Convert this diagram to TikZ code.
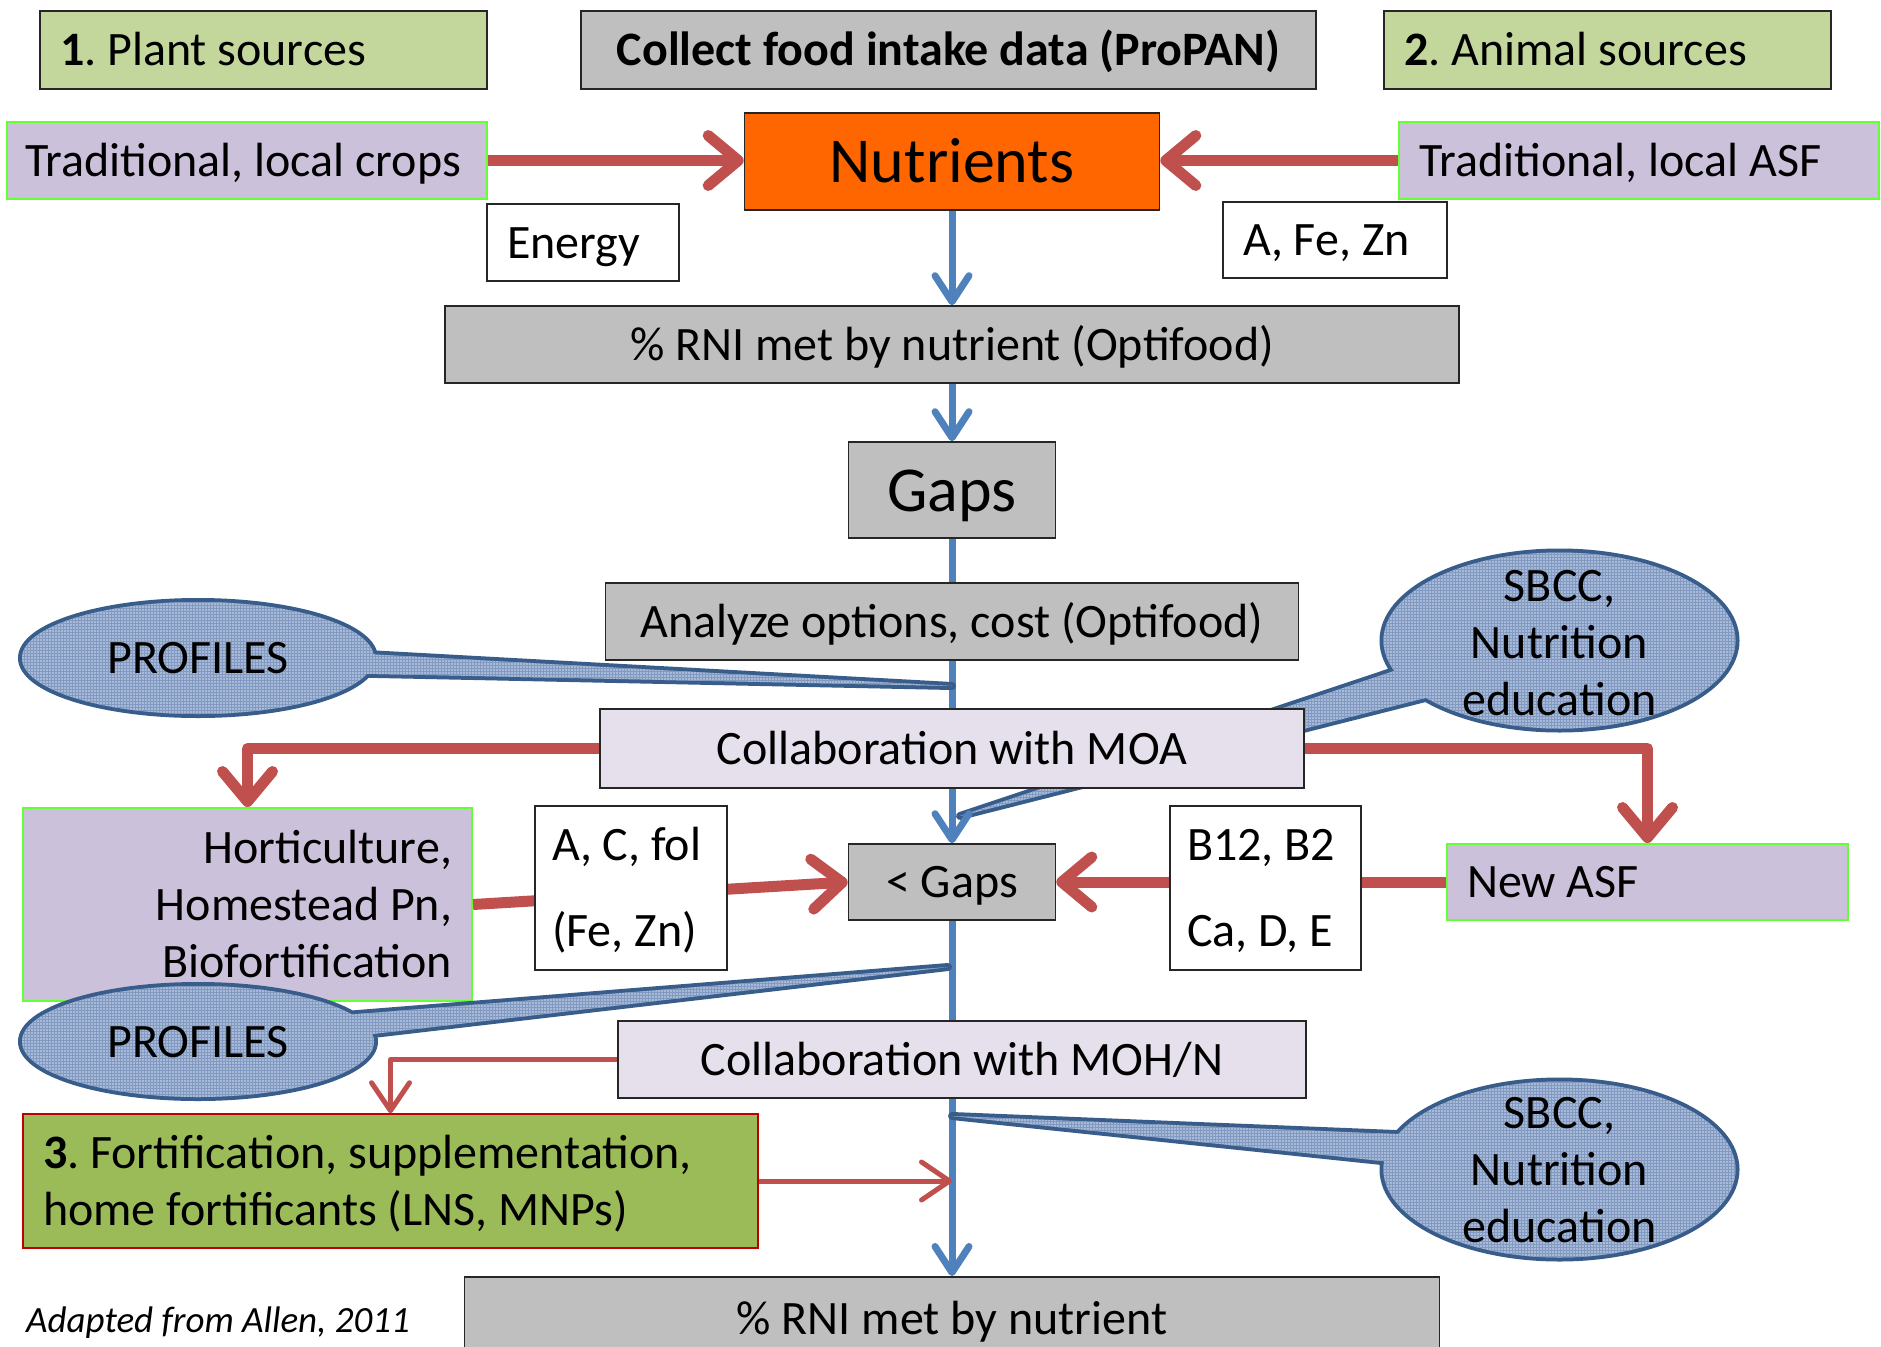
\documentclass[tikz,border=0pt]{standalone}
\usepackage{fontspec}
\setmainfont{Carlito}
\usetikzlibrary{arrows.meta,patterns}

\definecolor{greenbox}{HTML}{C3D69B}
\definecolor{boxgrey}{HTML}{BFBFBF}
\definecolor{lavbox}{HTML}{CCC1DA}
\definecolor{lavlight}{HTML}{E6E0EC}
\definecolor{limeline}{HTML}{66FF33}
\definecolor{orangebox}{HTML}{FF6600}
\definecolor{fortgreen}{HTML}{9BBB59}
\definecolor{fortline}{HTML}{C00000}
\definecolor{arrowred}{HTML}{C0504D}
\definecolor{arrowblue}{HTML}{4F81BD}
\definecolor{bubblefill}{HTML}{A7BAD8}
\definecolor{bubblegrid}{HTML}{8299C2}
\definecolor{bubbleline}{HTML}{385D8A}

\tikzset{
  box/.style={draw=black!85, line width=1.6pt, font=\fontsize{48}{57}\selectfont,
    inner xsep=20pt, inner ysep=0pt, minimum height=77pt,
    text height=41pt, text depth=9.6pt},
  leftbox/.style={box, align=flush left},
  sourcebox/.style={leftbox, fill=greenbox, minimum height=78pt},
  greybox/.style={box, fill=boxgrey},
  cropbox/.style={leftbox, fill=lavbox, draw=limeline, line width=2pt},
  whitebox/.style={leftbox, fill=white},
  moabox/.style={box, fill=lavlight},
  bigtext/.style={font=\fontsize{64}{72}\selectfont, text height=55pt, text depth=13pt},
  redarrow/.style={draw=arrowred, line width=11pt, line join=round,
    -{Straight Barb[length=30pt,width=50pt,round]}},
  redthin/.style={draw=arrowred, line width=5pt, line join=round,
    -{Straight Barb[length=28pt,width=38pt,round]}},
  blueline/.style={draw=arrowblue, line width=7pt},
  bluearrow/.style={blueline, -{Straight Barb[length=26pt,width=34pt,round]}},
  bubbleedge/.style={draw=bubbleline, line width=8pt, line join=round},
  bubblebody/.style={fill=bubblefill, postaction={pattern=grid, pattern color=bubblegrid}},
  bubbletext/.style={font=\fontsize{48}{57}\selectfont, align=center, inner sep=0pt}
}

% callout: centre, x radius, y radius, tail base a, tail base b, tail tip
\newcommand{\bubble}[6]{%
  \path[bubbleedge] (#1) ellipse [x radius=#2, y radius=#3] (#4) -- (#6) -- (#5) -- cycle;
  \path[bubblebody] (#1) ellipse [x radius=#2, y radius=#3];
  \path[bubblebody] (#4) -- (#6) -- (#5) -- cycle;
}

\begin{document}
\frenchspacing
\begin{tikzpicture}[x=1pt, y=-1pt]
\fill[white] (0,0) rectangle (1881,1346);
\useasboundingbox (0,0) rectangle (1881,1346);

% callout lying under the MOA box
\coordinate (sbccatip) at (960,816);
\bubble{1559.5,640.5}{176pt}{88pt}{1430,659}{1445,693}{sbccatip}
\node[bubbletext] (sbcca) at (1559.5,643) {SBCC,\\Nutrition\\education};

% top rows
\node[sourcebox, text width=407pt] (plant) at (263.5,50) {\textbf{1}. Plant sources};
\node[greybox, minimum width=735pt, minimum height=78pt, font=\fontsize{48}{57}\selectfont\bfseries] (collect) at (948.5,50) {Collect food intake data (ProPAN)};
\node[sourcebox, text width=407pt] (animal) at (1607.5,50) {\textbf{2}. Animal sources};
\node[cropbox, text width=444pt, inner xsep=18pt] (tradcrops) at (247,160.5) {Traditional, local crops};
\node[box, bigtext, fill=orangebox, minimum width=415pt, minimum height=97pt] (nutri) at (952,161.5) {Nutrients};
\node[cropbox, text width=440pt] (tradasf) at (1639,160.5) {Traditional, local ASF};
\node[whitebox, text width=152pt] (energy) at (583,242.5) {Energy};
\node[whitebox, text width=184pt, minimum height=76pt] (afezn) at (1335,240) {A, Fe, Zn};

% main column
\node[greybox, minimum width=1014pt] (rni) at (952,344.5) {\% RNI met by nutrient (Optifood)};
\node[greybox, bigtext, minimum width=207pt, minimum height=96pt] (gaps) at (952,490) {Gaps};
\node[greybox, minimum width=693pt] (analyze) at (952,621.5) {Analyze options, cost (Optifood)};
\node[moabox, minimum width=704pt, minimum height=79pt] (moa) at (952,748.5) {Collaboration with MOA};
\node[cropbox, align=flush right, text width=409pt, minimum height=193pt, text depth=123.6pt] (hort) at (247.5,904.5) {Horticulture,\\Homestead Pn,\\Biofortification};
\node[greybox, minimum width=207pt, minimum height=76pt] (lgaps) at (952,882) {< Gaps};
\node[cropbox, text width=361pt, minimum height=76pt] (newasf) at (1647.5,882) {New ASF};
\node[moabox, minimum width=688pt] (mohn) at (962,1059.5) {Collaboration with MOH/N};
\node[leftbox, fill=fortgreen, draw=fortline, text width=695pt, minimum height=134pt, text depth=66.6pt] (fort) at (390.5,1181) {\textbf{3}. Fortification, supplementation,\\home fortificants (LNS, MNPs)};
\node[greybox, minimum width=975pt, minimum height=84pt, anchor=north] (rnifinal) at (952,1276) {\% RNI met by nutrient};
\node[font=\fontsize{37}{44}\selectfont\itshape, anchor=west, inner sep=0pt] (credit) at (26,1323) {Adapted from Allen, 2011};

% connectors
\draw[redarrow] (tradcrops.east) -- (tradcrops.east -| nutri.west);
\draw[redarrow] (tradasf.west) -- (tradasf.west -| nutri.east);
\draw[bluearrow] (nutri.south) -- (rni.north);
\draw[bluearrow] (rni.south) -- (gaps.north);
\draw[blueline] (gaps.south) -- (analyze.north);
\draw[blueline] (analyze.south) -- (moa.north);
\draw[bluearrow] (moa.south) -- (lgaps.north);
\draw[blueline] (lgaps.south) -- (lgaps.south |- mohn.north);
\draw[bluearrow] (lgaps.south |- mohn.south) -- (rnifinal.north);
\draw[redarrow] (moa.west) -| (hort.north);
\draw[redarrow] (moa.east) -| (newasf.north);
\draw[redarrow] (hort.east) -- (lgaps.west);
\draw[redarrow] (newasf.west) -- (lgaps.east);
\draw[redthin] (mohn.west) -| (fort.north);
\draw[redthin] (fort.east) -- (fort.east -| lgaps.south);

% nutrient boxes over the red arrows
\node[whitebox, text width=158pt, inner xsep=17pt, minimum height=164pt, text depth=95.6pt, font=\fontsize{48}{86}\selectfont] (acfol) at (631,888) {A, C, fol\\(Fe, Zn)};
\node[whitebox, text width=157pt, inner xsep=17pt, minimum height=164pt, text depth=95.6pt, font=\fontsize{48}{86}\selectfont] (btwelve) at (1265.5,888) {B12, B2\\Ca, D, E};

% callouts
\coordinate (profatip) at (952,686);
\bubble{198,658}{176pt}{56pt}{330,652}{330,673}{profatip}
\node[bubbletext] (profa) at (198,658) {PROFILES};
\coordinate (profbtip) at (948,967);
\bubble{198,1041.5}{176pt}{55.5pt}{320,1017}{330,1039}{profbtip}
\node[bubbletext] (profb) at (198,1042) {PROFILES};
\coordinate (sbccbtip) at (952,1116);
\bubble{1559.5,1169.5}{176pt}{88pt}{1420,1135}{1420,1165}{sbccbtip}
\node[bubbletext] (sbccb) at (1559.5,1170) {SBCC,\\Nutrition\\education};
\end{tikzpicture}
\end{document}
